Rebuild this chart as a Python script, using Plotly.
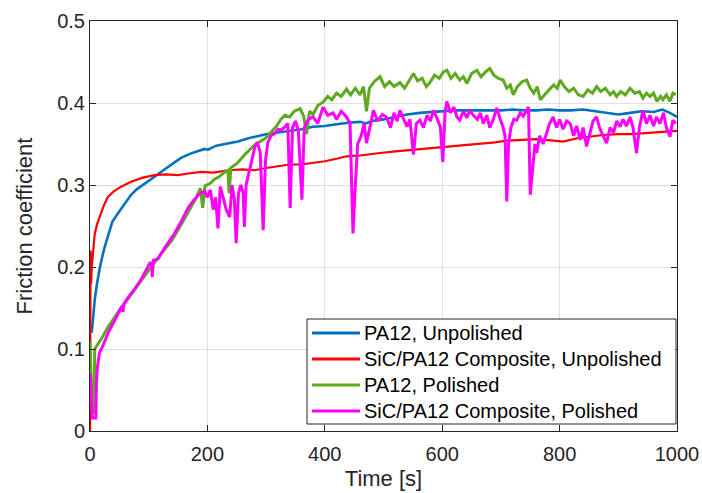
import plotly.graph_objects as go

# ---------------- data ----------------
blue_t = [3, 5, 8, 12, 17, 24, 31, 38, 48, 60, 70, 80, 95, 110, 125, 140, 155, 170, 185, 195, 201, 215,
          230, 252, 270, 286, 300, 320, 340, 360, 380, 400, 420, 440, 460, 470, 480, 500, 520, 540, 562,
          580, 600, 620, 640, 660, 681, 700, 720, 740, 760, 780, 800, 818, 840, 860, 880, 900, 920, 940,
          960, 975, 988, 1000]
blue_v = [0.12, 0.14, 0.16, 0.18, 0.20, 0.222, 0.24, 0.255, 0.266, 0.278, 0.288, 0.295, 0.302, 0.31,
          0.318, 0.326, 0.333, 0.338, 0.342, 0.344, 0.343, 0.348, 0.35, 0.353, 0.357, 0.36, 0.362, 0.364,
          0.366, 0.368, 0.371, 0.372, 0.374, 0.376, 0.377, 0.375, 0.378, 0.38, 0.383, 0.386, 0.388, 0.389,
          0.39, 0.391, 0.391, 0.391, 0.391, 0.391, 0.392, 0.391, 0.391, 0.392, 0.391, 0.391, 0.392, 0.39,
          0.388, 0.386, 0.388, 0.39, 0.389, 0.392, 0.388, 0.383]

red_t = [0, 1, 2, 3, 5, 8, 12, 17, 23, 30, 40, 53, 70, 90, 110, 130, 150, 167, 190, 210, 235, 260, 280,
         303, 324, 340, 360, 380, 400, 420, 437, 460, 480, 494, 520, 551, 580, 608, 630, 647, 664, 690,
         710, 732, 760, 790, 806, 830, 850, 874, 900, 920, 940, 960, 988, 1000]
red_v = [0.0, 0.22, 0.18, 0.20, 0.215, 0.24, 0.252, 0.262, 0.274, 0.285, 0.292, 0.298, 0.304, 0.309,
         0.312, 0.313, 0.312, 0.314, 0.316, 0.315, 0.318, 0.319, 0.318, 0.321, 0.323, 0.325, 0.325, 0.327,
         0.329, 0.332, 0.335, 0.336, 0.338, 0.339, 0.341, 0.343, 0.345, 0.346, 0.348, 0.349, 0.35, 0.352,
         0.354, 0.355, 0.356, 0.354, 0.353, 0.357, 0.359, 0.361, 0.362, 0.362, 0.363, 0.364, 0.366, 0.366]

green_t = [0, 2, 5, 7, 8, 12, 20, 30, 40, 50, 60, 70, 80, 90, 100, 110, 120, 130, 140, 150, 160, 170,
           180, 188, 192, 196, 205, 212, 220, 228, 235, 237, 240, 250, 257, 265, 272, 281, 290, 297, 303,
           310, 318, 325, 332, 340, 348, 358, 364, 369, 374, 380, 388, 397, 405, 412, 420, 428, 437, 444,
           452, 460, 466, 471, 476, 484, 494, 502, 510, 518, 528, 536, 544, 551, 558, 566, 573, 579, 587,
           595, 602, 608, 615, 622, 630, 636, 642, 650, 659, 666, 674, 681, 688, 696, 704, 710, 716, 721,
           728, 736, 744, 750, 756, 762, 767, 774, 782, 790, 796, 801, 808, 816, 824, 832, 840, 848, 856,
           863, 870, 878, 886, 892, 897, 904, 912, 920, 928, 936, 942, 948, 954, 960, 966, 972, 976, 982,
           988, 993, 998]
green_v = [0.11, 0.065, 0.04, 0.02, 0.10, 0.104, 0.113, 0.126, 0.137, 0.147, 0.157, 0.166, 0.176, 0.186,
           0.196, 0.205, 0.215, 0.224, 0.233, 0.245, 0.258, 0.27, 0.283, 0.296, 0.272, 0.299, 0.302, 0.307,
           0.31, 0.315, 0.318, 0.29, 0.321, 0.326, 0.332, 0.338, 0.343, 0.349, 0.353, 0.356, 0.36, 0.366,
           0.372, 0.38, 0.385, 0.383, 0.39, 0.393, 0.384, 0.362, 0.39, 0.386, 0.397, 0.401, 0.408, 0.404,
           0.412, 0.408, 0.417, 0.41, 0.418, 0.41, 0.42, 0.39, 0.418, 0.426, 0.432, 0.42, 0.426, 0.42, 0.425,
           0.418, 0.428, 0.436, 0.427, 0.43, 0.42, 0.425, 0.434, 0.43, 0.438, 0.44, 0.43, 0.436, 0.428, 0.432,
           0.424, 0.436, 0.44, 0.432, 0.438, 0.442, 0.434, 0.43, 0.428, 0.418, 0.422, 0.41, 0.42, 0.426,
           0.428, 0.418, 0.412, 0.42, 0.404, 0.41, 0.416, 0.422, 0.418, 0.428, 0.42, 0.414, 0.418, 0.41,
           0.408, 0.416, 0.412, 0.42, 0.414, 0.418, 0.41, 0.414, 0.408, 0.414, 0.41, 0.418, 0.412, 0.414,
           0.406, 0.412, 0.408, 0.412, 0.402, 0.408, 0.404, 0.41, 0.402, 0.412, 0.41]

mag_t = [0, 2, 4, 10, 11, 13, 16, 22, 31, 40, 50, 54, 56, 58, 65, 75, 88, 96, 102, 105, 106, 108, 116,
         125, 135, 145, 155, 167, 175, 185, 195, 200, 205, 210, 214, 218, 222, 227, 232, 238, 242, 246,
         249, 253, 257, 261, 263, 266, 269, 274, 278, 281, 285, 290, 295, 299, 303, 308, 315, 320, 325,
         331, 337, 341, 345, 350, 355, 361, 365, 372, 380, 388, 397, 405, 414, 420, 428, 437, 443, 448,
         452, 456, 462, 467, 471, 477, 483, 490, 498, 505, 512, 518, 523, 528, 534, 540, 545, 551, 556,
         562, 568, 574, 580, 585, 592, 597, 601, 605, 608, 614, 620, 625, 630, 636, 642, 647, 653, 660,
         665, 670, 676, 681, 687, 693, 698, 703, 707, 710, 713, 717, 722, 727, 733, 738, 743, 747, 750,
         754, 758, 761, 766, 772, 778, 783, 789, 795, 800, 806, 812, 818, 824, 829, 835, 840, 846, 852,
         857, 863, 868, 874, 880, 886, 892, 897, 903, 908, 914, 920, 925, 931, 936, 942, 948, 954, 960,
         965, 971, 977, 982, 988, 993, 998]
mag_v = [0.07, 0.04, 0.016, 0.016, 0.06, 0.08, 0.095, 0.104, 0.12, 0.132, 0.147, 0.152, 0.145, 0.155,
         0.163, 0.172, 0.186, 0.196, 0.205, 0.205, 0.188, 0.208, 0.21, 0.221, 0.232, 0.242, 0.255, 0.272,
         0.28, 0.288, 0.293, 0.285, 0.294, 0.27, 0.285, 0.247, 0.298, 0.285, 0.27, 0.261, 0.30, 0.282,
         0.229, 0.29, 0.30, 0.29, 0.249, 0.30, 0.31, 0.325, 0.34, 0.347, 0.352, 0.34, 0.245, 0.33, 0.352,
         0.36, 0.363, 0.368, 0.367, 0.37, 0.375, 0.272, 0.37, 0.378, 0.366, 0.282, 0.37, 0.38, 0.383,
         0.375, 0.395, 0.385, 0.388, 0.38, 0.39, 0.383, 0.375, 0.241, 0.30, 0.35, 0.36, 0.375, 0.351,
         0.372, 0.391, 0.378, 0.386, 0.383, 0.37, 0.388, 0.378, 0.391, 0.38, 0.371, 0.38, 0.337, 0.375,
         0.379, 0.37, 0.385, 0.378, 0.391, 0.38, 0.37, 0.328, 0.39, 0.402, 0.388, 0.395, 0.383, 0.379,
         0.39, 0.382, 0.391, 0.385, 0.38, 0.388, 0.375, 0.385, 0.37, 0.38, 0.394, 0.382, 0.372, 0.36,
         0.28, 0.35, 0.37, 0.38, 0.379, 0.388, 0.384, 0.39, 0.395, 0.288, 0.32, 0.35, 0.339, 0.36, 0.35,
         0.363, 0.375, 0.383, 0.37, 0.38, 0.368, 0.378, 0.375, 0.36, 0.372, 0.355, 0.37, 0.347, 0.365,
         0.378, 0.383, 0.37, 0.36, 0.351, 0.37, 0.364, 0.378, 0.371, 0.38, 0.372, 0.383, 0.37, 0.339,
         0.37, 0.391, 0.375, 0.385, 0.372, 0.383, 0.375, 0.388, 0.37, 0.359, 0.379, 0.375]

names = ["PA12, Unpolished", "SiC/PA12 Composite, Unpolished",
         "PA12, Polished", "SiC/PA12 Composite, Polished"]
x_ticks = [0, 200, 400, 600, 800, 1000]
y_ticks = [0, 0.1, 0.2, 0.3, 0.4, 0.5]
y_tick_text = ["0", "0.1", "0.2", "0.3", "0.4", "0.5"]

# ---------------- figure ----------------
FONT = "Liberation Sans, Arial, sans-serif"
W, H = 702, 493
ML, MR, MT, MB = 90, 25, 21, 62
PW, PH = W - ML - MR, H - MT - MB

series = [(blue_t, blue_v, "#0072BD", 2.6),
          (red_t, red_v, "#FF0000", 2.2),
          (green_t, green_v, "#5EA91F", 3.0),
          (mag_t, mag_v, "#FF00FF", 3.0)]

fig = go.Figure()
for (t, v, c, w), n in zip(series, names):
    fig.add_trace(go.Scatter(x=t, y=v, mode="lines", name=n, showlegend=False,
                             line=dict(color=c, width=w)))


def px_x(p):  # pixel -> paper x
    return (p - ML) / PW


def px_y(p):  # pixel -> paper y
    return (H - MB - p) / PH


# legend box drawn in paper coordinates (MATLAB-style compact legend)
box_l, box_r, box_t, box_b = 307, 676, 319, 424
row_y = [333, 359, 385, 411]
fig.add_shape(type="rect", xref="paper", yref="paper",
              x0=px_x(box_l), x1=px_x(box_r), y0=px_y(box_b), y1=px_y(box_t),
              fillcolor="white", line=dict(color="#262626", width=1), layer="above")
for (t, v, c, w), n, ry in zip(series, names, row_y):
    fig.add_shape(type="line", xref="paper", yref="paper",
                  x0=px_x(312), x1=px_x(360), y0=px_y(ry), y1=px_y(ry),
                  line=dict(color=c, width=3), layer="above")
    fig.add_annotation(xref="paper", yref="paper", x=px_x(362), y=px_y(ry),
                       text=n, showarrow=False, xanchor="left", yanchor="middle",
                       font=dict(family=FONT, size=20, color="#000000"))

axis_common = dict(showline=True, linecolor="#262626", linewidth=1, mirror="ticks",
                   ticks="inside", ticklen=6, tickcolor="#262626",
                   showgrid=True, gridcolor="#DFDFDF", gridwidth=1, zeroline=False,
                   automargin=False,
                   tickfont=dict(family=FONT, size=20, color="#262626"))

fig.update_xaxes(range=[0, 1000], tickvals=x_ticks, ticklabelstandoff=5,
                 title=dict(text="Time [s]", font=dict(family=FONT, size=22, color="#262626"),
                            standoff=6),
                 **axis_common)
fig.update_yaxes(range=[0, 0.5], tickvals=y_ticks, ticktext=y_tick_text,
                 title=dict(text="Friction coefficient", font=dict(family=FONT, size=22, color="#262626"),
                            standoff=18),
                 **axis_common)

fig.update_layout(
    width=W, height=H,
    margin=dict(l=ML, r=MR, t=MT, b=MB),
    paper_bgcolor="white", plot_bgcolor="white",
    showlegend=False,
)

fig.write_html("out.html")
